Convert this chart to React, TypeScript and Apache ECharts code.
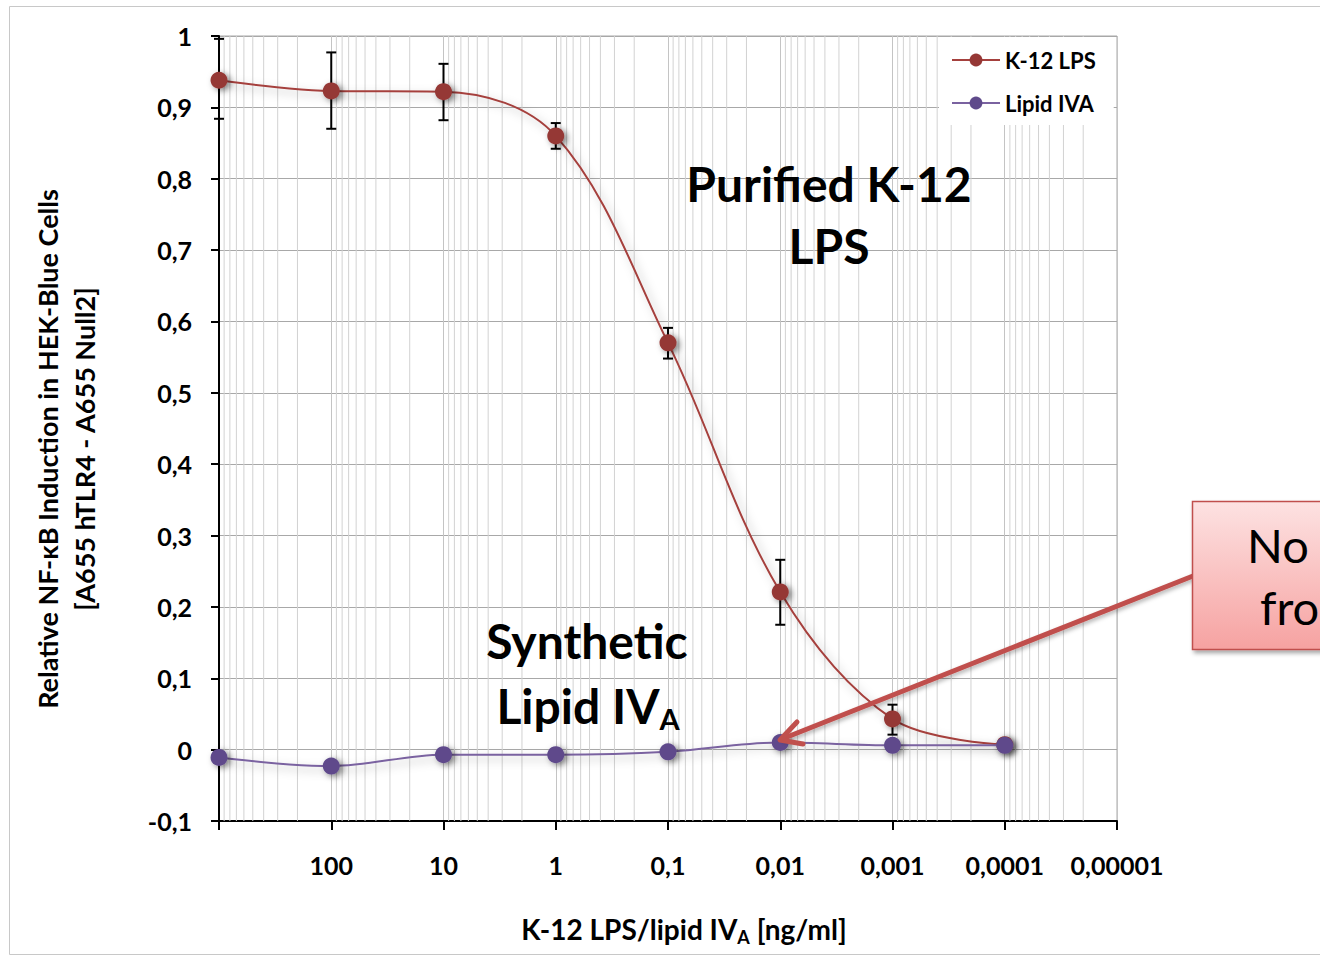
import React, { useEffect, useRef } from 'react';
import * as echarts from 'echarts';

const concentrations = [1000, 100, 10, 1, 0.1, 0.01, 0.001, 0.0001];
const k12Values = [0.938, 0.923, 0.922, 0.860, 0.570, 0.221, 0.043, 0.007];
const k12Low = [0.884, 0.870, 0.882, 0.842, 0.548, 0.175, 0.021, 0.000];
const k12High = [0.996, 0.977, 0.961, 0.878, 0.591, 0.266, 0.063, 0.014];
const lipidValues = [-0.011, -0.023, -0.007, -0.007, -0.003, 0.010, 0.006, 0.006];

const seriesNames = ['K-12 LPS', 'Lipid IVA'];
const xMin = 0.00001;
const xMax = 1000;
const yMin = -0.1;
const yMax = 1;

const decadeExponents = [-5, -4, -3, -2, -1, 0, 1, 2];
const minorMultipliers = [2, 3, 4, 5, 6, 7, 8, 9];

const FONT = 'Lato, "Open Sans", sans-serif';

function formatX(v: number): string {
  const n = Math.round(Math.log10(v));
  if (n >= 3) return '';
  if (n >= 0) return String(Math.pow(10, n));
  return '0,' + '0'.repeat(-n - 1) + '1';
}

function formatY(v: number): string {
  const r = Math.round(v * 10) / 10;
  if (r === 0) return '0';
  if (Number.isInteger(r)) return String(r);
  return r.toFixed(1).replace('.', ',');
}

export default function App() {
  const ref = useRef<HTMLDivElement>(null);

  useEffect(() => {
    if (!ref.current) return;
    const chart = echarts.init(ref.current, undefined, { renderer: 'svg' });

    const minorGrid: number[][] = [];
    decadeExponents.forEach((e) => {
      minorMultipliers.forEach((m) => {
        minorGrid.push([m * Math.pow(10, e), 0]);
      });
    });

    const k12Data = concentrations.map((x, i) => [x, k12Values[i]]);
    const lipidData = concentrations.map((x, i) => [x, lipidValues[i]]);
    const errData = concentrations.map((x, i) => [x, k12Low[i], k12High[i]]);

    const bigText = (text: string, x: number, y: number) => ({
      type: 'text',
      z: 20,
      x,
      y,
      style: {
        text,
        fontFamily: FONT,
        fontSize: 48,
        fontWeight: 'bold',
        fill: '#000',
        align: 'center',
        verticalAlign: 'middle',
      },
    });

    const option: any = {
      animation: false,
      backgroundColor: '#ffffff',
      grid: {
        left: 219,
        top: 36,
        right: 203,
        bottom: 135,
        show: true,
        borderColor: '#a8a8a8',
        borderWidth: 1,
      },
      legend: {
        data: seriesNames,
        orient: 'vertical',
        left: 939,
        top: 37,
        backgroundColor: '#ffffff',
        padding: [12, 18, 11, 12],
        itemGap: 21,
        itemWidth: 48,
        itemHeight: 16,
        textStyle: { fontFamily: FONT, fontSize: 22, fontWeight: 'bold', color: '#000' },
      },
      xAxis: {
        type: 'log',
        logBase: 10,
        min: xMin,
        max: xMax,
        inverse: true,
        splitNumber: 8,
        axisLine: { show: true, onZero: false, lineStyle: { color: '#000', width: 2 } },
        axisTick: { show: true, length: 9, lineStyle: { color: '#000', width: 2 } },
        axisLabel: {
          formatter: formatX,
          margin: 31,
          fontFamily: FONT,
          fontSize: 25,
          fontWeight: 'bold',
          color: '#000',
          showMinLabel: true,
          showMaxLabel: true,
        },
        splitLine: { show: true, lineStyle: { color: '#c4c4c4', width: 1 } },
        minorTick: { show: false },
      },
      yAxis: {
        type: 'value',
        min: yMin,
        max: yMax,
        interval: 0.1,
        axisLine: { show: true, lineStyle: { color: '#000', width: 2 } },
        axisTick: { show: true, length: 8, lineStyle: { color: '#000', width: 2 } },
        axisLabel: {
          formatter: formatY,
          margin: 27,
          fontFamily: FONT,
          fontSize: 25,
          fontWeight: 'bold',
          color: '#000',
        },
        splitLine: { show: true, lineStyle: { color: '#a8a8a8', width: 1 } },
      },
      series: [
        {
          name: 'minorGrid',
          type: 'custom',
          silent: true,
          z: 1,
          data: minorGrid,
          encode: { x: 0, y: 1 },
          renderItem: (params: any, api: any) => {
            const v = api.value(0);
            const top = api.coord([v, yMax]);
            const bottom = api.coord([v, yMin]);
            return {
              type: 'line',
              shape: { x1: top[0], y1: top[1], x2: bottom[0], y2: bottom[1] },
              style: { stroke: '#d2d2d2', lineWidth: 1 },
            };
          },
        },
        {
          name: 'errorBars',
          type: 'custom',
          silent: true,
          z: 3,
          data: errData,
          encode: { x: 0, y: [1, 2] },
          renderItem: (params: any, api: any) => {
            const x = api.value(0);
            const lo = api.coord([x, api.value(1)]);
            const hi = api.coord([x, api.value(2)]);
            const w = 5;
            const st = { stroke: '#000', lineWidth: 2 };
            return {
              type: 'group',
              children: [
                { type: 'line', shape: { x1: lo[0], y1: lo[1], x2: hi[0], y2: hi[1] }, style: st },
                { type: 'line', shape: { x1: lo[0] - w, y1: lo[1], x2: lo[0] + w, y2: lo[1] }, style: st },
                { type: 'line', shape: { x1: hi[0] - w, y1: hi[1], x2: hi[0] + w, y2: hi[1] }, style: st },
              ],
            };
          },
        },
        {
          name: seriesNames[0],
          type: 'line',
          z: 4,
          data: k12Data,
          smooth: 0.35,
          symbol: 'circle',
          symbolSize: 17,
          color: '#953735',
          lineStyle: {
            color: '#a5403d',
            width: 2,
            shadowBlur: 10,
            shadowColor: 'rgba(0,0,0,0.3)',
            shadowOffsetX: 4,
            shadowOffsetY: 4,
          },
          itemStyle: {
            color: '#953735',
            shadowBlur: 6,
            shadowColor: 'rgba(0,0,0,0.5)',
            shadowOffsetX: 3,
            shadowOffsetY: 2,
          },
        },
        {
          name: seriesNames[1],
          type: 'line',
          z: 5,
          data: lipidData,
          smooth: 0.35,
          symbol: 'circle',
          symbolSize: 17,
          color: '#5f4a8b',
          lineStyle: {
            color: '#7a62a0',
            width: 2,
            shadowBlur: 10,
            shadowColor: 'rgba(0,0,0,0.3)',
            shadowOffsetX: 4,
            shadowOffsetY: 4,
          },
          itemStyle: {
            color: '#5f4a8b',
            shadowBlur: 6,
            shadowColor: 'rgba(0,0,0,0.5)',
            shadowOffsetX: 3,
            shadowOffsetY: 2,
          },
        },
      ],
      graphic: [
        {
          type: 'rect',
          z: -10,
          silent: true,
          shape: { x: 9.5, y: 6.5, width: 1400, height: 948 },
          style: { fill: 'none', stroke: '#c8c8c8', lineWidth: 1 },
        },
        bigText('Purified K-12', 829, 183),
        bigText('LPS', 829, 245),
        bigText('Synthetic', 587, 640),
        {
          type: 'text',
          z: 20,
          x: 588,
          y: 705,
          style: {
            text: '{a|Lipid IV}{s|A}',
            rich: {
              a: { fontFamily: FONT, fontSize: 48, fontWeight: 'bold', fill: '#000', lineHeight: 56 },
              s: { fontFamily: FONT, fontSize: 29, fontWeight: 'bold', fill: '#000', lineHeight: 22, verticalAlign: 'bottom' },
            },
            align: 'center',
            verticalAlign: 'middle',
          },
        },
        {
          type: 'text',
          z: 20,
          x: 66,
          y: 449,
          rotation: Math.PI / 2,
          style: {
            text: 'Relative NF-κB Induction in HEK-Blue Cells\n[A655 hTLR4 - A655 Null2]',
            fontFamily: FONT,
            fontSize: 27,
            fontWeight: 'bold',
            lineHeight: 37,
            fill: '#000',
            align: 'center',
            verticalAlign: 'middle',
          },
        },
        {
          type: 'text',
          z: 20,
          x: 684,
          y: 929,
          style: {
            text: '{t|K-12 LPS/lipid IV}{s|A}{t| [ng/ml]}',
            rich: {
              t: { fontFamily: FONT, fontSize: 28, fontWeight: 'bold', fill: '#000', lineHeight: 34 },
              s: { fontFamily: FONT, fontSize: 18, fontWeight: 'bold', fill: '#000', lineHeight: 18, verticalAlign: 'bottom' },
            },
            align: 'center',
            verticalAlign: 'middle',
          },
        },
        {
          type: 'polyline',
          z: 30,
          silent: true,
          shape: { points: [[1193, 576], [782, 739]] },
          style: {
            stroke: '#c0504d',
            lineWidth: 5,
            shadowBlur: 4,
            shadowColor: 'rgba(0,0,0,0.3)',
            shadowOffsetX: 2,
            shadowOffsetY: 2,
          },
        },
        {
          type: 'polyline',
          z: 30,
          silent: true,
          shape: { points: [[797, 722], [780, 740], [803, 744]] },
          style: {
            stroke: '#c0504d',
            lineWidth: 5,
            lineCap: 'round',
            lineJoin: 'round',
            fill: 'none',
          },
        },
        {
          type: 'rect',
          z: 31,
          silent: true,
          shape: { x: 1192.5, y: 501.5, width: 200, height: 148 },
          style: {
            fill: new echarts.graphic.LinearGradient(0, 0, 0, 1, [
              { offset: 0, color: '#fde2e2' },
              { offset: 1, color: '#f6a2a1' },
            ]),
            stroke: '#c0504d',
            lineWidth: 1.5,
            shadowBlur: 4,
            shadowColor: 'rgba(0,0,0,0.35)',
            shadowOffsetX: 2,
            shadowOffsetY: 3,
          },
        },
        {
          type: 'text',
          z: 32,
          x: 1247,
          y: 545,
          style: {
            text: 'No',
            fontFamily: FONT,
            fontSize: 47,
            fill: '#000',
            align: 'left',
            verticalAlign: 'middle',
          },
        },
        {
          type: 'text',
          z: 32,
          x: 1260,
          y: 607,
          style: {
            text: 'fro',
            fontFamily: FONT,
            fontSize: 47,
            fill: '#000',
            align: 'left',
            verticalAlign: 'middle',
          },
        },
      ],
    };

    chart.setOption(option);
    return () => {
      chart.dispose();
    };
  }, []);

  return (
    <div
      ref={ref}
      style={{ position: 'fixed', left: 0, top: 0, width: 1320, height: 956 }}
    />
  );
}
